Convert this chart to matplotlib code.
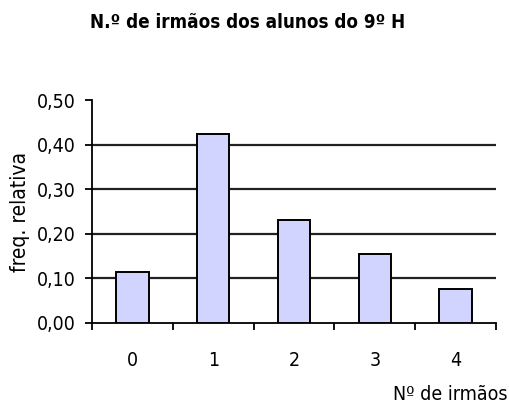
import matplotlib
matplotlib.use("Agg")
import matplotlib.pyplot as plt
import numpy as np

# dados
categorias = ["0", "1", "2", "3", "4"]
freq_relativa = [0.115, 0.423, 0.231, 0.154, 0.077]
yticks = [0.0, 0.1, 0.2, 0.3, 0.4, 0.5]
ytick_labels = ["0,00", "0,10", "0,20", "0,30", "0,40", "0,50"]

plt.rcParams["font.family"] = ["DejaVu Sans"]
plt.rcParams["font.stretch"] = "condensed"

fig = plt.figure(figsize=(5.1, 4.05), dpi=100)
ax = fig.add_axes([92 / 510, 1 - 323 / 405, 404 / 510, 223 / 405])

x = np.arange(len(categorias))
ax.bar(x, freq_relativa, width=0.4, color="#D0D4FF", edgecolor="black", linewidth=1.4, zorder=3)

ax.set_xlim(-0.5, len(categorias) - 0.5)
ax.set_ylim(0, 0.5)

ax.set_yticks(yticks)
ax.set_yticklabels(ytick_labels)
for v in yticks[1:-1]:
    ax.axhline(v, color="#222222", lw=1.6, zorder=1)

# ticks nas fronteiras das categorias, rótulos no centro
ax.set_xticks(np.arange(-0.5, len(categorias)), minor=False)
ax.set_xticklabels([])
ax.set_xticks(x, minor=True)
ax.set_xticklabels(categorias, minor=True)
ax.tick_params(axis="x", which="major", direction="out", length=5, width=1.3)
ax.tick_params(axis="x", which="minor", length=0, pad=20, labelsize=14)
ax.tick_params(axis="y", direction="out", length=5, width=1.3, labelsize=14, pad=7)

for s in ["top", "right"]:
    ax.spines[s].set_visible(False)
for s in ["left", "bottom"]:
    ax.spines[s].set_linewidth(1.3)

ax.set_ylabel("freq. relativa", fontsize=15, labelpad=5)
fig.text(508 / 510, 1 - 394 / 405, "Nº de irmãos", ha="right", va="center", fontsize=14)
fig.text(248 / 510, 1 - 22 / 405, "N.º de irmãos dos alunos do 9º H", ha="center", va="center",
         fontsize=13.5, fontweight="bold")

fig.savefig("out.png", dpi=100)
